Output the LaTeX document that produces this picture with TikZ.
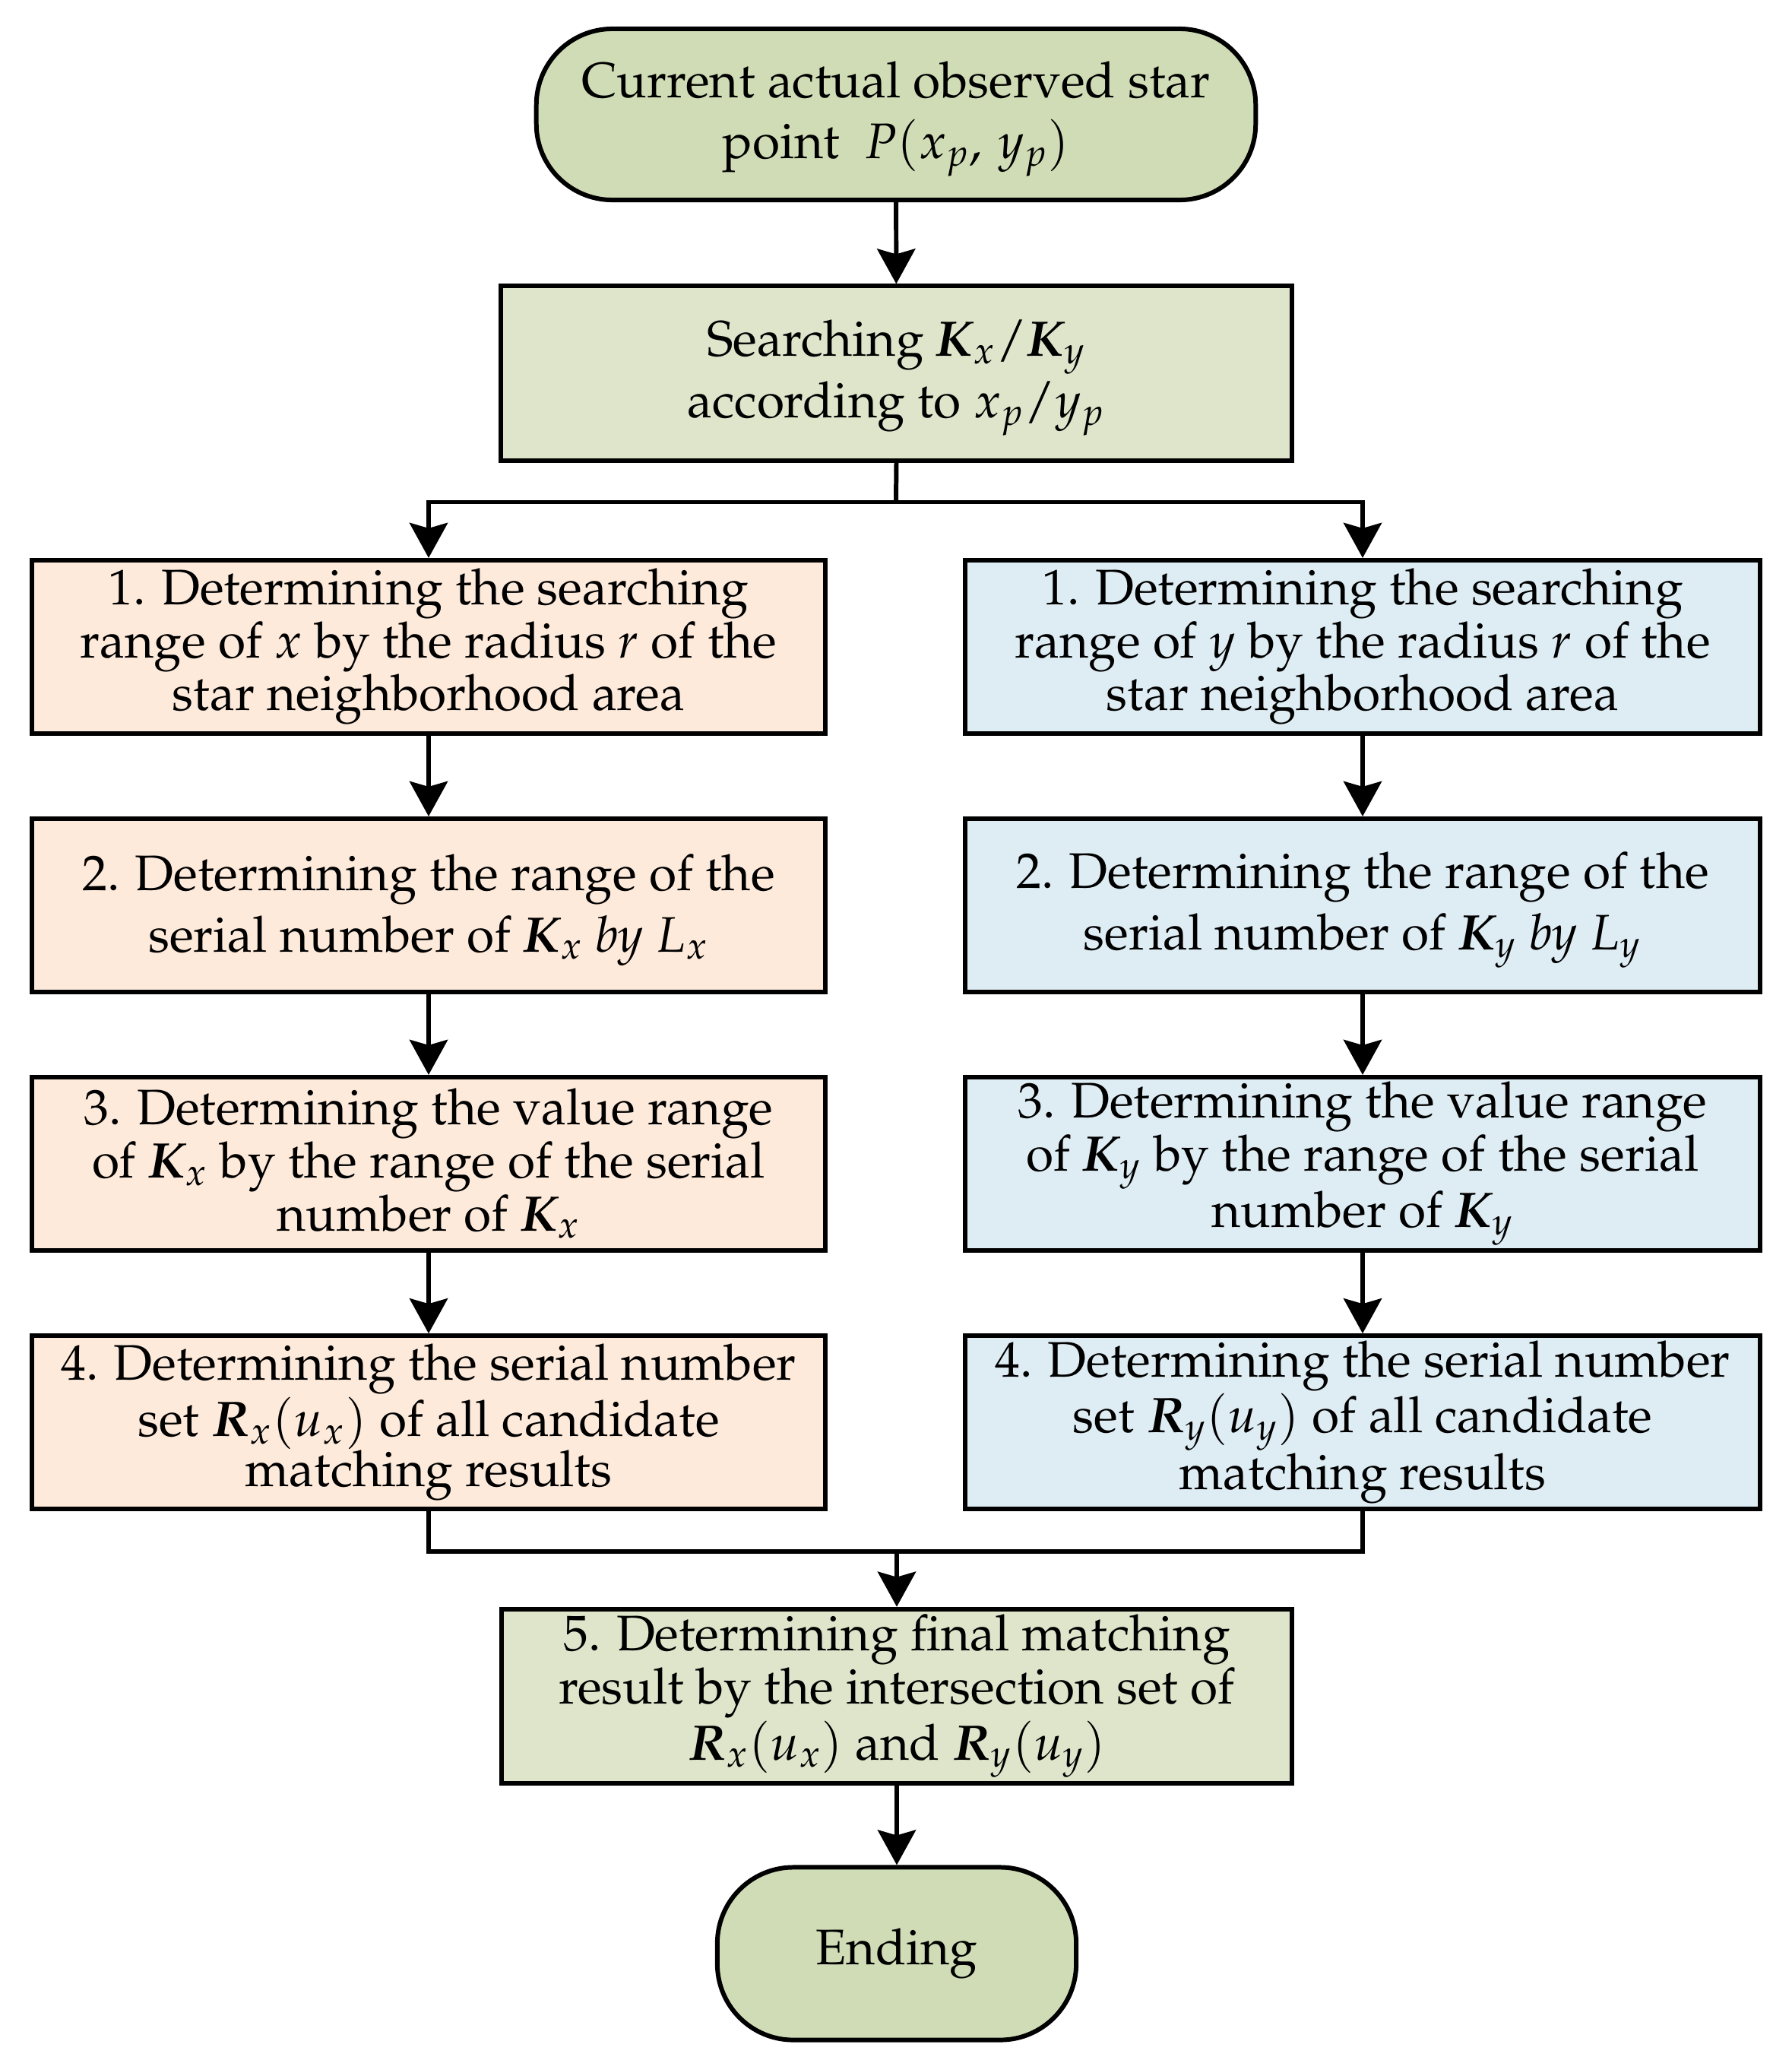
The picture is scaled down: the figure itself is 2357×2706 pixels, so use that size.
\documentclass[tikz,border=0pt]{standalone}
\usepackage[T1]{fontenc}
\usepackage{mathpazo}
\usepackage{bm}
\usetikzlibrary{arrows.meta}
\definecolor{termfill}{RGB}{208,220,181}
\definecolor{greenfill}{RGB}{222,229,203}
\definecolor{leftfill}{RGB}{253,234,219}
\definecolor{rightfill}{RGB}{222,236,243}
\newcommand{\topstrut}{\rule{0pt}{17pt}}
\tikzset{
  base/.style={draw=black, line width=1.7pt, align=center, inner sep=0pt,
    font=\fontsize{18.7}{18.8}\selectfont},
  twoline/.style={font=\fontsize{18.7}{23}\selectfont},
  term/.style={base, fill=termfill, rounded corners=1.0cm},
  gbox/.style={base, fill=greenfill},
  lbox/.style={base, fill=leftfill, minimum width=10.44cm, minimum height=2.275cm},
  rbox/.style={base, fill=rightfill, minimum width=10.46cm, minimum height=2.275cm},
  conn/.style={line width=1.7pt, line join=miter},
  arr/.style={conn, -{Stealth[length=0.46cm, width=0.5cm, inset=0.07cm]}}
}
\begin{document}
\begin{tikzpicture}[x=0.01cm, y=-0.01cm]
\useasboundingbox (0,0) rectangle (2357,2706);
\node[term, twoline, minimum width=9.46cm, minimum height=2.25cm] (start) at (1179,150.5)
  {\topstrut Current actual observed star\\ point\ \ $P(x_p,\, y_p)$};
\node[gbox, twoline, minimum width=10.41cm, minimum height=2.29cm] (search) at (1179.5,491)
  {\topstrut Searching $\bm{K}_x/\bm{K}_y$\\ according to $x_p/y_p$};
\node[lbox] (l1) at (564,850.75)
  {1. Determining the searching\\ range of $x$ by the radius $r$ of the\\ star neighborhood area};
\node[rbox] (r1) at (1793,850.75)
  {1. Determining the searching\\ range of $y$ by the radius $r$ of the\\ star neighborhood area};
\node[lbox, twoline] (l2) at (564,1190.75)
  {\topstrut 2. Determining the range of the\\ serial number of $\bm{K}_x$ \textit{by} $L_x$};
\node[rbox, twoline] (r2) at (1793,1190.75)
  {\topstrut 2. Determining the range of the\\ serial number of $\bm{K}_y$ \textit{by} $L_y$};
\node[lbox] (l3) at (564,1530.75)
  {3. Determining the value range\\ of $\bm{K}_x$ by the range of the serial\\ number of $\bm{K}_x$};
\node[rbox] (r3) at (1793,1530.75)
  {3. Determining the value range\\ of $\bm{K}_y$ by the range of the serial\\ number of $\bm{K}_y$};
\node[lbox] (l4) at (564,1871)
  {4. Determining the serial number\\ set $\bm{R}_x(u_x)$ of all candidate\\ matching results};
\node[rbox] (r4) at (1793,1871)
  {4. Determining the serial number\\ set $\bm{R}_y(u_y)$ of all candidate\\ matching results};
\node[gbox, minimum width=10.40cm, minimum height=2.295cm] (b5) at (1180,2231.5)
  {5. Determining final matching\\ result by the intersection set of\\ $\bm{R}_x(u_x)$ and $\bm{R}_y(u_y)$};
\node[term, minimum width=4.72cm, minimum height=2.27cm] (end) at (1180,2570)
  {Ending};
\coordinate (br) at (1179,660.5);
\coordinate (mg) at (1180,2040.5);
\draw[arr] (start) -- (search);
\draw[conn] (search.south) -- (br);
\draw[arr] (br) -| (l1.north);
\draw[arr] (br) -| (r1.north);
\draw[arr] (l1) -- (l2);
\draw[arr] (l2) -- (l3);
\draw[arr] (l3) -- (l4);
\draw[arr] (r1) -- (r2);
\draw[arr] (r2) -- (r3);
\draw[arr] (r3) -- (r4);
\draw[conn] (l4.south) |- (mg);
\draw[conn] (r4.south) |- (mg);
\draw[arr] (mg) -- (b5.north);
\draw[arr] (b5) -- (end);
\end{tikzpicture}
\end{document}
